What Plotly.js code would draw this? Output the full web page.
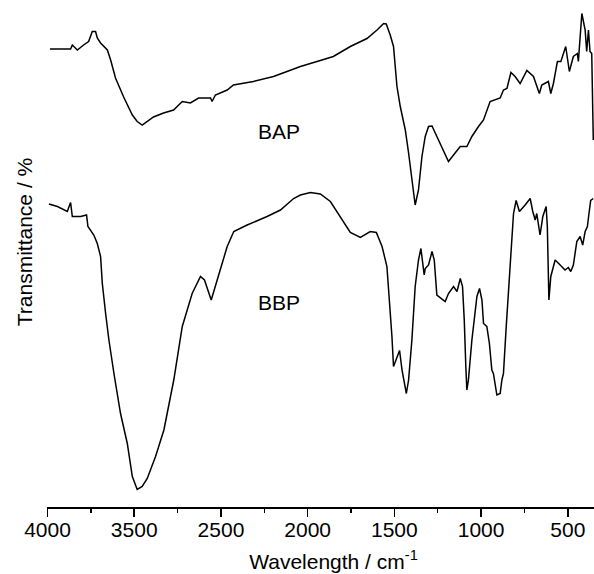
<!DOCTYPE html>
<html>
<head>
<meta charset="utf-8">
<script src="https://cdn.plot.ly/plotly-3.0.1.min.js"></script>
<style>
html,body{margin:0;padding:0;overflow:hidden;background:#fff;width:594px;height:574px;}
#chart{position:absolute;left:0;top:-23px;width:620px;height:597px;}
</style>
</head>
<body>
<div id="chart"></div>
<script>
// Series: BAP (upper spectrum)
const bapWavenumber = [3486,3367,3357,3328,3292,3263,3242,3223,3213,3194,3155,3136,3108,3061,3011,2983,2954,2925,2889,2831,2773,2723,2676,2629,2560,2551,2532,2464,2428,2313,2197,2119,2042,1946,1852,1754,1658,1600,1562,1547,1524,1505,1485,1466,1437,1418,1399,1380,1361,1341,1322,1303,1283,1264,1245,1217,1188,1159,1120,1082,1053,1015,986,948,890,871,851,828,804,775,736,698,664,650,612,598,583,560,540,512,491,468,445,439,419,400,391,381,372,362,353];
const bapTransmittance = [91.6,91.6,92.4,91.4,92.4,93.1,95.1,95.1,93.8,92.8,91.4,89.4,85.8,82.0,78.4,77.1,76.4,77.1,78.0,78.8,79.4,81.1,80.8,81.8,81.8,81.1,82.4,83.4,84.4,85.1,86.1,87.1,88.1,89.1,90.1,92.1,93.7,95.4,96.7,96.6,94.4,92.1,84.1,80.1,75.4,70.8,65.4,60.4,63.4,70.1,74.1,76.1,76.2,74.8,73.4,71.4,69.1,70.4,72.1,72.1,74.1,76.1,77.4,81.1,81.8,83.4,83.7,86.9,86.1,84.7,87.3,86.1,82.7,84.4,85.1,82.7,84.7,89.1,89.1,92.1,87.1,90.1,90.7,89.1,98.7,95.4,91.1,95.4,91.1,90.7,73.4];

// Series: BBP (lower spectrum)
const bbpWavenumber = [3492,3443,3386,3367,3357,3309,3275,3267,3233,3213,3194,3184,3165,3146,3117,3079,3040,3011,2983,2954,2925,2877,2829,2791,2772,2723,2666,2618,2595,2556,2532,2493,2464,2426,2349,2234,2157,2081,2042,1984,1927,1869,1812,1754,1696,1639,1604,1571,1543,1524,1514,1505,1485,1470,1456,1443,1431,1418,1399,1380,1361,1347,1328,1322,1303,1283,1270,1255,1226,1207,1188,1159,1139,1120,1107,1097,1088,1082,1073,1053,1024,1009,995,986,967,952,938,929,909,890,880,871,855,836,813,798,779,746,717,702,688,679,660,644,625,618,609,598,573,544,516,497,483,468,448,429,414,400,387,379,368,353];
const bbpTransmittance = [60.6,60.1,59.1,60.9,58.1,58.1,58.4,56.1,54.4,52.7,50.1,44.7,38.7,33.4,26.7,18.7,12.7,6.1,3.5,4.1,5.7,10.1,15.4,22.1,25.4,36.1,42.7,46.1,45.4,41.4,44.1,48.7,52.1,55.1,56.4,58.1,59.4,61.7,62.4,62.9,62.6,61.1,58.1,54.9,53.9,55.1,54.9,52.1,48.1,40.1,34.1,28.1,30.1,31.3,27.4,25.0,22.7,25.4,33.4,44.1,49.4,51.7,46.4,47.7,48.4,51.1,49.4,42.4,41.7,41.1,42.7,44.1,43.1,45.7,44.1,37.4,28.1,23.4,25.4,33.4,42.1,43.7,41.4,36.7,36.1,32.7,27.4,26.7,22.4,22.7,25.4,26.7,36.1,45.4,58.7,61.3,59.1,60.4,61.7,59.1,57.4,58.7,54.4,58.1,60.1,56.1,41.4,46.1,49.4,48.4,47.4,47.9,47.1,48.4,53.1,54.1,52.4,55.1,56.1,58.4,61.3,61.7];

// Tick labels as printed on the axis
const tickPositions = [3500,3000,2500,2000,1500,1000,500];
const tickLabels = ['4000','3500','2500','2000','1500','1000','500'];
const seriesNames = ['BAP','BBP'];

const font = 'Liberation Sans, Arial, Helvetica, sans-serif';
const lineStyle = {color:'#000', width:1.5};

const traces = [
  {x:bapWavenumber, y:bapTransmittance, name:seriesNames[0], mode:'lines', line:lineStyle, hoverinfo:'x+y'},
  {x:bbpWavenumber, y:bbpTransmittance, name:seriesNames[1], mode:'lines', line:lineStyle, hoverinfo:'x+y'}
];

const layout = {
  width:620, height:597,
  margin:{l:47, r:0, t:0, b:67},
  paper_bgcolor:'#fff', plot_bgcolor:'#fff',
  showlegend:false,
  font:{family:font, size:21, color:'#000'},
  xaxis:{
    range:[3503,199],
    tickmode:'array', tickvals:tickPositions, ticktext:tickLabels,
    ticks:'outside', ticklen:8, tickwidth:1.5, tickcolor:'#000',
    ticklabelstandoff:-5,
    minor:{tickmode:'linear', tick0:250, dtick:500, ticks:'outside', ticklen:4, tickwidth:1.5, tickcolor:'#000'},
    showline:true, linecolor:'#000', linewidth:1.5,
    showgrid:false, zeroline:false,
    tickfont:{family:font, size:21, color:'#000'},
    title:{text:'Wavelength / cm<sup>-1</sup>', font:{family:font, size:21, color:'#000'}, standoff:14}
  },
  yaxis:{
    range:[0,106],
    showline:false, showticklabels:false, ticks:'', showgrid:false, zeroline:false,
    title:{text:'Transmittance / %', font:{family:font, size:21, color:'#000'}, standoff:7}
  },
  annotations:[
    {x:2163, y:75.2, xref:'x', yref:'y', text:seriesNames[0], showarrow:false, font:{family:font, size:21, color:'#000'}},
    {x:2163, y:41, xref:'x', yref:'y', text:seriesNames[1], showarrow:false, font:{family:font, size:21, color:'#000'}}
  ]
};

Plotly.newPlot('chart', traces, layout, {displayModeBar:false, staticPlot:true});
</script>
</body>
</html>
